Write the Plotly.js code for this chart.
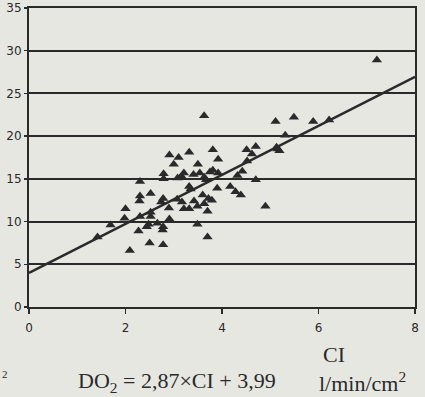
<!DOCTYPE html>
<html>
<head>
<meta charset="utf-8">
<script src="https://cdn.plot.ly/plotly-3.0.1.min.js"></script>
<style>html,body{margin:0;padding:0;background:#e7e7e2;}#chart{width:425px;height:397px;}</style>
</head>
<body>
<div id="chart"></div>
<script>
// Data
const ciValues = [7.21,3.63,5.11,5.49,5.89,6.22,5.31,5.13,5.19,5.15,4.70,4.51,4.62,4.52,4.42,4.32,4.70,4.90,4.17,4.28,4.39,3.90,3.81,3.92,3.32,2.91,3.10,3.00,3.50,3.54,3.75,3.81,3.63,3.41,3.21,3.16,3.08,2.79,2.79,2.30,3.32,3.35,2.52,2.30,2.29,2.78,2.74,3.07,3.17,3.42,3.60,3.72,3.63,3.79,3.21,3.32,3.49,3.70,2.90,2.00,1.98,2.52,2.52,2.30,2.91,2.66,2.78,2.77,2.48,2.44,2.27,3.49,1.69,1.42,2.50,2.78,2.09,3.70,3.92,3.67];
const do2Values = [28.9,22.4,21.7,22.2,21.7,21.9,20.1,18.7,18.3,18.5,18.8,18.4,17.9,17.1,15.9,15.4,14.9,11.8,14.1,13.5,13.1,13.9,18.4,17.3,18.1,17.8,17.5,16.7,16.7,15.7,15.8,16.0,15.2,15.5,15.7,15.3,15.1,15.6,15.0,14.7,14.1,13.8,13.3,13.0,12.4,12.7,12.3,12.6,12.3,12.4,13.1,12.7,12.1,12.5,11.5,11.5,11.8,11.2,11.6,11.5,10.4,11.1,10.6,10.6,10.3,9.8,9.4,9.0,9.7,9.4,8.9,9.7,9.6,8.2,7.5,7.3,6.6,8.2,15.7,14.9];
const slope = 2.87;
const intercept = 3.99;
const lineX = [0, 8];
const lineY = lineX.map(v => slope * v + intercept);
const xTicks = [0, 2, 4, 6, 8];
const yTicks = [0, 5, 10, 15, 20, 25, 30, 35];

const ink = '#2a2a2a';
const traces = [
  {x: lineX, y: lineY, mode: 'lines', line: {color: ink, width: 2.5}, hoverinfo: 'skip', showlegend: false, cliponaxis: false},
  {x: ciValues, y: do2Values, mode: 'markers', marker: {symbol: 'triangle-up', size: 9, color: ink}, showlegend: false, cliponaxis: false}
];

const serif = 'Liberation Serif, Times New Roman, serif';
const layout = {
  width: 425, height: 397,
  margin: {l: 29, r: 10, t: 8, b: 90},
  paper_bgcolor: '#e7e7e2', plot_bgcolor: '#e7e7e2',
  font: {family: 'Liberation Sans, Arial, sans-serif', color: ink},
  xaxis: {
    range: [0, 8], tickvals: xTicks, ticktext: xTicks.map(String),
    showgrid: false, zeroline: false, showline: true, mirror: true,
    linecolor: ink, linewidth: 2, ticks: 'outside', ticklen: 5, tickwidth: 1.5, tickcolor: ink,
    ticklabelstandoff: 4,
    tickfont: {size: 12, color: ink, family: 'DejaVu Sans, sans-serif'}
  },
  yaxis: {
    range: [0, 35], tickvals: yTicks, ticktext: yTicks.map(String),
    showgrid: true, gridcolor: ink, gridwidth: 2, zeroline: false,
    showline: true, mirror: true, linecolor: ink, linewidth: 2,
    ticks: 'outside', ticklen: 3, tickwidth: 1.5, tickcolor: ink,
    tickfont: {size: 12, color: ink, family: 'DejaVu Sans, sans-serif'}
  },
  annotations: [
    {xref: 'paper', yref: 'paper', x: 0.757, y: -0.16, xanchor: 'left', yanchor: 'middle', showarrow: false,
     text: 'CI', font: {family: serif, size: 22, color: ink}},
    {xref: 'paper', yref: 'paper', x: 0.745, y: -0.25, xanchor: 'left', yanchor: 'middle', showarrow: false,
     text: 'l/min/cm<sup>2</sup>', font: {family: serif, size: 22, color: ink}},
    {xref: 'paper', yref: 'paper', x: 0.122, y: -0.25, xanchor: 'left', yanchor: 'middle', showarrow: false,
     text: 'DO<sub>2</sub> = 2,87×CI + 3,99', font: {family: serif, size: 22, color: ink}},
    {xref: 'paper', yref: 'paper', x: -0.075, y: -0.225, xanchor: 'left', yanchor: 'middle', showarrow: false,
     text: '2', font: {family: serif, size: 11, color: ink}}
  ]
};

Plotly.newPlot('chart', traces, layout, {staticPlot: true, displayModeBar: false});
</script>
</body>
</html>
